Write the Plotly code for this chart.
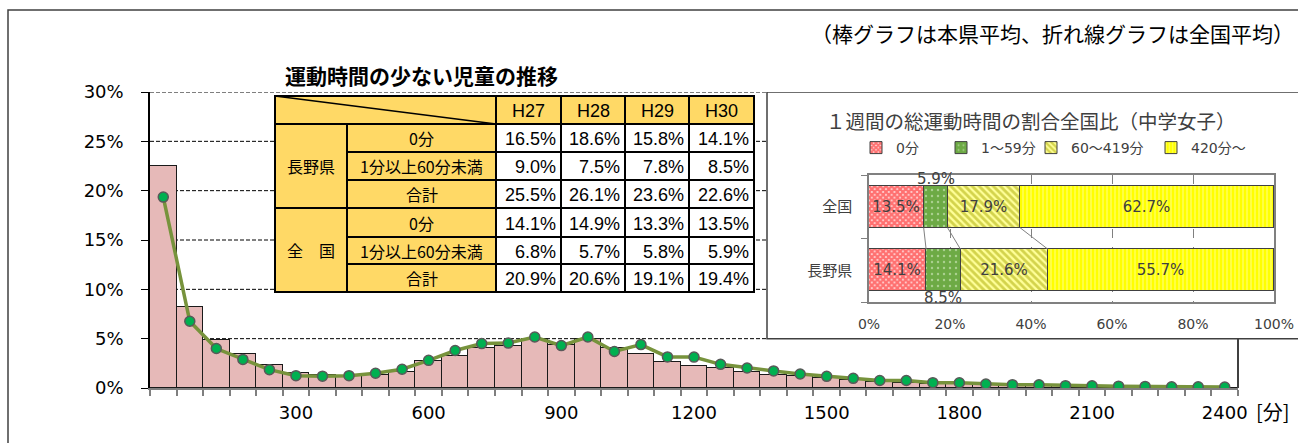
import plotly.graph_objects as go

# ---------------- Data ----------------
minutes = list(range(0, 2401, 60))          # category (minutes per week)
x_tick_vals = [300, 600, 900, 1200, 1500, 1800, 2100, 2400]
y_tick_vals = [0, 5, 10, 15, 20, 25, 30]

nagano_pct = [22.5, 8.2, 4.9, 3.4, 2.3, 1.5, 1.3, 1.2, 1.3, 1.6, 2.7, 3.2, 4.1, 4.3,
              5.0, 4.4, 5.0, 4.1, 3.4, 2.6, 2.25, 2.0, 1.6, 1.35, 1.25, 0.98, 0.78,
              0.62, 0.54, 0.45, 0.4, 0.32, 0.27, 0.22, 0.18, 0.15, 0.12, 0.1, 0.08,
              0.06, 0.05]
national_pct = [19.35, 6.76, 4.0, 2.9, 1.86, 1.25, 1.2, 1.25, 1.5, 1.9, 2.8, 3.8, 4.5,
                4.55, 5.17, 4.3, 5.17, 3.7, 4.4, 3.15, 3.13, 2.4, 2.03, 1.73, 1.42,
                1.18, 0.98, 0.76, 0.76, 0.54, 0.53, 0.4, 0.34, 0.32, 0.24, 0.22, 0.19,
                0.16, 0.13, 0.12, 0.1]

# table: 運動時間の少ない児童の推移
years = ["H27", "H28", "H29", "H30"]
table_regions = ["長野県", "全　国"]
table_rows = ["0分", "1分以上60分未満", "合計"]
nagano_0 = [16.5, 18.6, 15.8, 14.1]
nagano_1_59 = [9.0, 7.5, 7.8, 8.5]
nagano_total = [25.5, 26.1, 23.6, 22.6]
national_0 = [14.1, 14.9, 13.3, 13.5]
national_1_59 = [6.8, 5.7, 5.8, 5.9]
national_total = [20.9, 20.6, 19.1, 19.4]

# inset: １週間の総運動時間の割合全国比（中学女子）
bands = ["0分", "1～59分", "60～419分", "420分～"]
inset_regions = ["長野県", "全国"]
nagano_share = [14.1, 8.5, 21.6, 55.7]
national_share = [13.5, 5.9, 17.9, 62.7]

# ---------------- Geometry helpers ----------------
W, H = 1298, 443
ML, MR, MT, MB = 150, 20, 92, 55
PW, PH = W - ML - MR, H - MT - MB


def px(x):
    return (x - ML) / PW


def py(y):
    return (H - MB - y) / PH


F_NUM = "DejaVu Sans, Noto Sans CJK JP"
F_JP = "Noto Sans CJK JP, DejaVu Sans"
F_NAR = "Liberation Sans Narrow, Liberation Sans, Noto Sans CJK JP"

fig = go.Figure()

# ---------------- Main chart ----------------
fig.add_trace(go.Bar(
    x=minutes, y=nagano_pct, width=60, xaxis="x", yaxis="y",
    marker=dict(color="#E6B9B8", line=dict(color="#1a1a1a", width=1.5)),
    showlegend=False, hoverinfo="skip"))
fig.add_trace(go.Scatter(
    x=minutes, y=national_pct, mode="lines+markers", xaxis="x", yaxis="y",
    line=dict(color="#77933C", width=3.5),
    marker=dict(size=10, color="#00B050", line=dict(color="#595959", width=1.5)),
    showlegend=False, hoverinfo="skip"))

# ---------------- Inset chart ----------------
patterns = [
    dict(shape="x", fgcolor="#FF0000", bgcolor="#FFE0E0", size=4, solidity=0.8),
    dict(shape=".", fgcolor="#E8F5DC", bgcolor="#6DAA45", size=6, solidity=0.12),
    dict(shape="\\", fgcolor="#A8A800", bgcolor="#FFFF99", size=5, solidity=0.55),
    dict(shape="|", fgcolor="#FFFFE0", bgcolor="#FFFF00", size=4, solidity=0.3),
]
legend_names = ["legend", "legend2", "legend3", "legend4"]
for i, b in enumerate(bands):
    vals = [nagano_share[i], national_share[i]]
    txt = [f"{v:.1f}%" for v in vals] if i != 1 else None
    fig.add_trace(go.Bar(
        y=inset_regions, x=vals, orientation="h", xaxis="x2", yaxis="y2",
        name=b, width=0.66, legend=legend_names[i],
        marker=dict(pattern=patterns[i], line=dict(color="#404040", width=1)),
        text=txt, textposition="inside" if txt else "none",
        insidetextanchor="middle", constraintext="none",
        textfont=dict(family=F_NUM, size=15, color="#404040"),
        hoverinfo="skip"))

shapes = []
annotations = []

# outer frame
shapes.append(dict(type="rect", xref="paper", yref="paper", x0=px(8), x1=px(1320),
                   y0=py(470), y1=py(10), line=dict(color="#404040", width=1.5),
                   layer="below"))
# main gridlines (stop at inset box)
for v in y_tick_vals[1:]:
    shapes.append(dict(type="line", xref="paper", yref="y", x0=0, x1=px(767), y0=v, y1=v,
                       line=dict(color="#000000", width=1, dash="4px,2px"), layer="below"))
# main right border under the inset
shapes.append(dict(type="line", xref="paper", yref="y", x0=px(1238), x1=px(1238),
                   y0=0, y1=5, line=dict(color="#000000", width=1.5), layer="below"))
# inset box
shapes.append(dict(type="rect", xref="paper", yref="y", x0=px(767), x1=px(1320),
                   y0=5, y1=30, fillcolor="#FFFFFF", line=dict(color="#404040", width=1.5),
                   layer="below"))

# inset series connector lines
bw = 0.66
cum_nat, cum_nag = 0, 0
for i in range(len(bands) - 1):
    cum_nat += national_share[i]
    cum_nag += nagano_share[i]
    shapes.append(dict(type="line", xref="x2", yref="y2", x0=cum_nat, x1=cum_nag,
                       y0=1 - bw / 2, y1=bw / 2, line=dict(color="#808080", width=1)))

# labels for the thin 1~59 segment
annotations.append(dict(xref="x2", yref="y2", x=national_share[0] + national_share[1] / 2,
                        y=1 + bw / 2, yanchor="bottom", yshift=-4, showarrow=False,
                        text=f"{national_share[1]:.1f}%",
                        font=dict(family=F_NUM, size=15, color="#404040")))
annotations.append(dict(xref="x2", yref="y2", x=nagano_share[0] + nagano_share[1] / 2,
                        y=-bw / 2, yanchor="top", yshift=4, showarrow=False,
                        text=f"{nagano_share[1]:.1f}%",
                        font=dict(family=F_NUM, size=15, color="#404040")))

# ---------------- Table (shapes + text) ----------------
col_x = [275, 347, 496, 561, 625, 689, 754]
row_y = [96, 124, 152, 180, 208, 237, 264, 292]
YEL = "#FFD966"
BL = dict(color="#000000", width=2)


def cell(x0, x1, y0, y1, fill):
    shapes.append(dict(type="rect", xref="paper", yref="paper", x0=px(x0), x1=px(x1),
                       y0=py(y1), y1=py(y0), fillcolor=fill, line=BL, layer="above"))


def ctext(x, y, s, font, size, xanchor="center", bold=False):
    annotations.append(dict(xref="paper", yref="paper", x=px(x), y=py(y), text=s,
                            showarrow=False, xanchor=xanchor, yanchor="middle",
                            font=dict(family=font, size=size, color="#000000",
                                      weight=700 if bold else 400)))


# header
cell(col_x[0], col_x[2], row_y[0], row_y[1], YEL)
shapes.append(dict(type="line", xref="paper", yref="paper", x0=px(col_x[0]), y0=py(row_y[0]),
                   x1=px(col_x[2]), y1=py(row_y[1]), line=dict(color="#000000", width=1.5),
                   layer="above"))
for j, yr in enumerate(years):
    cell(col_x[2 + j], col_x[3 + j], row_y[0], row_y[1], YEL)
    ctext((col_x[2 + j] + col_x[3 + j]) / 2, (row_y[0] + row_y[1]) / 2 + 1, yr, F_NAR, 18)

table_values = [nagano_0, nagano_1_59, nagano_total, national_0, national_1_59, national_total]
for g, reg in enumerate(table_regions):
    r0 = 1 + 3 * g
    cell(col_x[0], col_x[1], row_y[r0], row_y[r0 + 3], YEL)
    ctext((col_x[0] + col_x[1]) / 2, (row_y[r0] + row_y[r0 + 3]) / 2, reg, F_JP, 16)
    for k, lab in enumerate(table_rows):
        r = r0 + k
        cell(col_x[1], col_x[2], row_y[r], row_y[r + 1], YEL)
        ctext((col_x[1] + col_x[2]) / 2, (row_y[r] + row_y[r + 1]) / 2, lab, F_JP, 16)
        for j in range(len(years)):
            cell(col_x[2 + j], col_x[3 + j], row_y[r], row_y[r + 1], "#FFFFFF")
            ctext(col_x[3 + j] - 3, (row_y[r] + row_y[r + 1]) / 2 + 1,
                  f"{table_values[3 * g + k][j]:.1f}%", F_NAR, 18, xanchor="right")

# ---------------- Titles / notes ----------------
annotations.append(dict(xref="paper", yref="paper", x=px(283), y=py(75), xanchor="left",
                        yanchor="middle", showarrow=False, text="運動時間の少ない児童の推移",
                        font=dict(family=F_JP, size=21, color="#000000", weight=700)))
annotations.append(dict(xref="paper", yref="paper", x=px(1296), y=py(33), xanchor="right",
                        yanchor="middle", showarrow=False,
                        text="（棒グラフは本県平均、折れ線グラフは全国平均）",
                        font=dict(family=F_JP, size=21, color="#000000")))
annotations.append(dict(xref="paper", yref="paper", x=px(1031), y=py(120), xanchor="center",
                        yanchor="middle", showarrow=False,
                        text="１週間の総運動時間の割合全国比（中学女子）",
                        font=dict(family=F_JP, size=19.5, color="#404040")))
annotations.append(dict(xref="paper", yref="paper", x=px(1254), y=py(411), xanchor="left",
                        yanchor="middle", showarrow=False, text="[分]",
                        font=dict(family=F_JP, size=20, color="#000000")))

leg_common = dict(orientation="h", xanchor="left", yanchor="middle", y=py(148),
                  bgcolor="rgba(0,0,0,0)", borderwidth=0, itemwidth=30,
                  font=dict(family=F_NUM, size=14, color="#404040"))
leg_x = [856, 941, 1031, 1151]

fig.update_layout(
    width=W, height=H, autosize=False,
    margin=dict(l=ML, r=MR, t=MT, b=MB),
    paper_bgcolor="#FFFFFF", plot_bgcolor="rgba(0,0,0,0)",
    barmode="stack", bargap=0,
    showlegend=True,
    legend=dict(x=px(leg_x[0]), **leg_common),
    legend2=dict(x=px(leg_x[1]), **leg_common),
    legend3=dict(x=px(leg_x[2]), **leg_common),
    legend4=dict(x=px(leg_x[3]), **leg_common),
    xaxis=dict(domain=[0, px(1238)], anchor="y", range=[-30, 2430], automargin=False,
               tickvals=x_tick_vals, ticktext=[str(v) for v in x_tick_vals],
               ticks="", showgrid=False, zeroline=False,
               showline=True, linecolor="#7F7F7F", linewidth=1.5,
               ticklabelstandoff=8,
               minor=dict(tick0=-30, dtick=60, ticks="outside", ticklen=6,
                          tickcolor="#7F7F7F", tickwidth=1.5, showgrid=False),
               tickfont=dict(family=F_NUM, size=18, color="#000000")),
    yaxis=dict(domain=[0, 1], anchor="x", range=[0, 30], automargin=False,
               tickvals=y_tick_vals, ticktext=[f"{v}%" for v in y_tick_vals],
               ticks="outside", ticklen=7, tickcolor="#000000", tickwidth=1,
               showgrid=False, zeroline=False,
               showline=True, linecolor="#000000", linewidth=1.5,
               ticklabelstandoff=14,
               tickfont=dict(family=F_NUM, size=18, color="#000000")),
    xaxis2=dict(domain=[px(869), px(1274)], anchor="y2", range=[0, 100], automargin=False,
                tickvals=[0, 20, 40, 60, 80, 100],
                ticktext=["0%", "20%", "40%", "60%", "80%", "100%"],
                ticks="", showgrid=True, gridcolor="#808080", griddash="dash", gridwidth=1,
                zeroline=False, showline=True, mirror=True, linecolor="#808080",
                linewidth=1.5, ticklabelstandoff=8,
                tickfont=dict(family=F_NUM, size=14, color="#404040")),
    yaxis2=dict(domain=[py(302), py(175)], anchor="x2", type="category", automargin=False,
                categoryorder="array", categoryarray=inset_regions,
                range=[-0.5, 1.5], showgrid=False, zeroline=False,
                showline=True, mirror=True, linecolor="#808080", linewidth=1.5,
                ticks="outside", tickson="boundaries", ticklen=6, tickcolor="#808080",
                ticklabelstandoff=12,
                tickfont=dict(family=F_JP, size=15, color="#404040")),
    shapes=shapes,
    annotations=annotations,
)

fig.write_html(
    "out.html",
    config={"displayModeBar": False},
    post_script="document.body.style.margin='0px';",
)
